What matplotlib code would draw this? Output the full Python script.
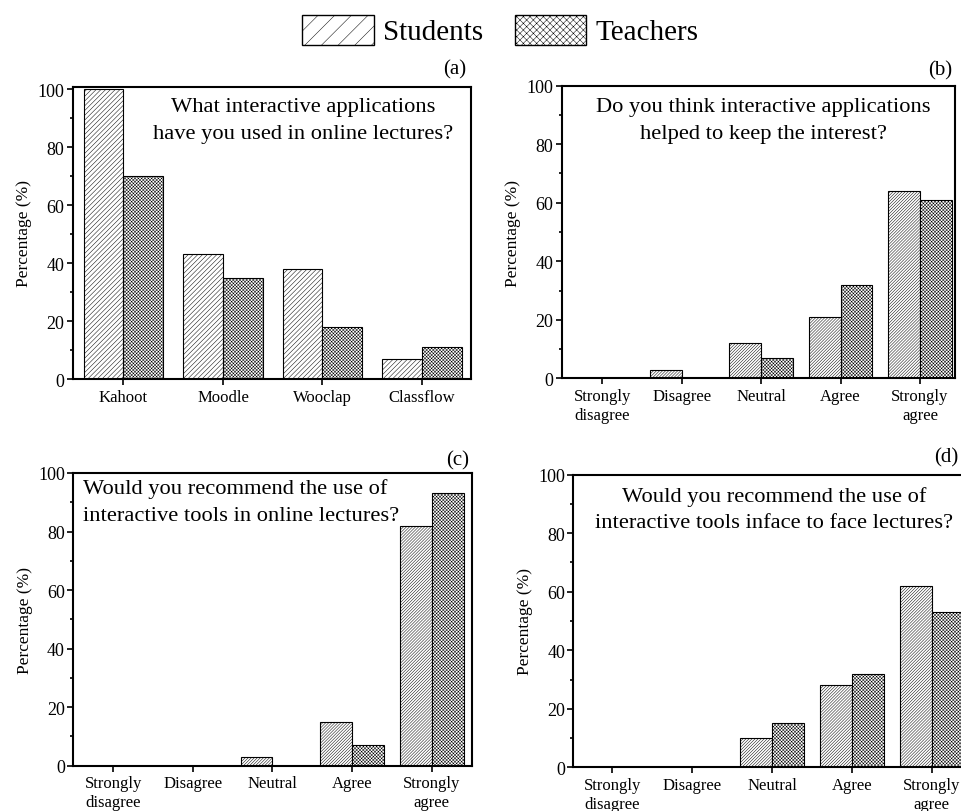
import numpy as np
import matplotlib
matplotlib.use("Agg")
import matplotlib.pyplot as plt
from matplotlib.patches import Patch
from matplotlib.ticker import MultipleLocator

plt.rcParams["font.family"] = ["Liberation Serif", "DejaVu Serif"]
plt.rcParams["hatch.linewidth"] = 0.35

apps = ["Kahoot", "Moodle", "Wooclap", "Classflow"]
likert = ["Strongly\ndisagree", "Disagree", "Neutral", "Agree", "Strongly\nagree"]

a_students = [100, 43, 38, 7]
a_teachers = [70, 35, 18, 11]
b_students = [0, 3, 12, 21, 64]
b_teachers = [0, 0, 7, 32, 61]
c_students = [0, 0, 3, 15, 82]
c_teachers = [0, 0, 0, 7, 93]
d_students = [0, 0, 10, 28, 62]
d_teachers = [0, 0, 15, 32, 53]

questions = [
    "What interactive applications\nhave you used in online lectures?",
    "Do you think interactive applications\nhelped to keep the interest?",
    "Would you recommend the use of\ninteractive tools in online lectures?",
    "Would you recommend the use of\ninteractive tools inface to face lectures?",
]

fig = plt.figure(figsize=(9.62, 8.12), dpi=100)

panels = [
    # rect, cats, students, teachers, ylim top, xlim, text pos, ha, student hatch, label pos
    ([0.0756, 0.532, 0.4137, 0.360], apps, a_students, a_teachers, 100.8, (-0.51, 3.49),
     (0.579, 0.886), "center", "/" * 7, (455, 70), "(a)"),
    ([0.5839, 0.5329, 0.4088, 0.3603], likert, b_students, b_teachers, 100, (-0.51, 4.44),
     (0.512, 0.883), "center", "/" * 11, (940, 71), "(b)"),
    ([0.0762, 0.0558, 0.4141, 0.3605], likert, c_students, c_teachers, 100, (-0.5, 4.5),
     (0.024, 0.903), "left", "/" * 11, (458, 461), "(c)"),
    ([0.5960, 0.0538, 0.4148, 0.3604], likert, d_students, d_teachers, 100, (-0.49, 4.51),
     (0.503, 0.883), "center", "/" * 11, (946, 458), "(d)"),
]

w = 0.4
for (rect, cats, stu, tea, ytop, xl, tpos, ha, shatch, lpos, lab), q in zip(panels, questions):
    ax = fig.add_axes(rect)
    x = np.arange(len(cats))
    ax.bar(x - w / 2, stu, w, color="white", edgecolor="black", linewidth=0.8, hatch=shatch)
    ax.bar(x + w / 2, tea, w, color="white", edgecolor="black", linewidth=0.8, hatch="x" * 10)
    ax.set_xlim(*xl)
    ax.set_ylim(0, ytop)
    ax.set_xticks(x)
    ax.set_xticklabels(cats, fontsize=12, linespacing=1.25)
    ax.yaxis.set_major_locator(MultipleLocator(20))
    ax.yaxis.set_minor_locator(MultipleLocator(10))
    ax.tick_params(axis="y", which="major", direction="out", length=4, width=1.2, labelsize=13, pad=2)
    ax.tick_params(axis="y", which="minor", direction="out", length=2.5, width=1.2)
    ax.tick_params(axis="x", direction="out", length=4, width=1.2, pad=3)
    for s in ax.spines.values():
        s.set_linewidth(1.5)
    ax.set_ylabel("Percentage (%)", fontsize=12.5, labelpad=4)
    ax.text(tpos[0], tpos[1], q, transform=ax.transAxes, ha=ha, va="center",
            multialignment=ha, fontsize=16.2, linespacing=1.55)
    fig.text(lpos[0] / 962, 1 - lpos[1] / 812, lab, ha="center", va="center", fontsize=15)

handles = [
    Patch(facecolor="white", edgecolor="black", hatch="//", linewidth=1.0),
    Patch(facecolor="white", edgecolor="black", hatch="xxxxx", linewidth=1.0),
]
fig.legend(handles, ["Students", "Teachers"], loc="center", bbox_to_anchor=(0.52, 1 - 31 / 812),
           ncol=2, frameon=False, fontsize=21, handlelength=2.45, handleheight=1.22,
           handletextpad=0.3, columnspacing=1.1, borderpad=0)

fig.savefig("out.png", dpi=100)
